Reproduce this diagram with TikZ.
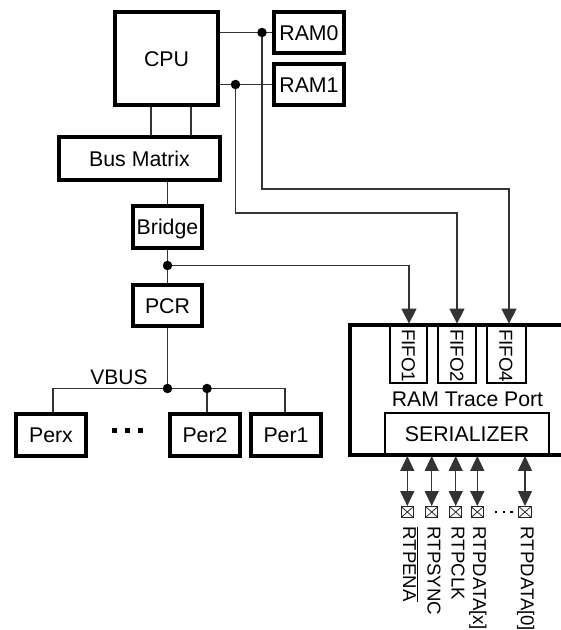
\documentclass[tikz,border=0pt]{standalone}
\usepackage{fontspec}
\setmainfont{Liberation Sans}
\usetikzlibrary{arrows.meta,calc}
\begin{document}
\begin{tikzpicture}[x=1pt,y=-1pt,
  box/.style={draw=black, line width=3.6pt, inner sep=0pt, font=\fontsize{21.3}{24}\selectfont, text height=15.2pt, text depth=0pt},
  thinbox/.style={draw=black, line width=2.2pt, inner sep=0pt, font=\fontsize{21.3}{24}\selectfont, text height=15.2pt, text depth=0pt},
  lbl/.style={inner sep=0pt, font=\fontsize{21}{24}\selectfont, text height=15pt, text depth=0pt},
  rotlbl/.style={rotate=-90, inner sep=0pt, font=\fontsize{18.8}{22}\selectfont, text height=13.5pt, text depth=0pt},
  pinlbl/.style={rotate=-90, anchor=west, inner sep=0pt, font=\fontsize{18.6}{22}\selectfont, text height=13.3pt, text depth=0pt},
  wire/.style={draw=black!80, line width=1.3pt},
  dot/.style={circle, fill=black, inner sep=0pt, minimum size=9.5pt},
  arrdown/.style={wire, -{Triangle[width=15pt,length=15pt]}},
  biarr/.style={wire, {Triangle[width=14pt,length=15pt]}-{Triangle[width=14pt,length=15pt]}},
  pin/.style={draw=black!85, line width=1pt, minimum width=12.5pt, minimum height=11pt, inner sep=0pt,
    path picture={\draw[black!85, line width=0.8pt] (path picture bounding box.north west) -- (path picture bounding box.south east)
      (path picture bounding box.north east) -- (path picture bounding box.south west);}},
  bigline/.style={draw=black, line width=3.8pt},
]
\useasboundingbox (0,0) rectangle (561,630);
\clip (0,0) rectangle (561,630);

% main boxes
\node[box, minimum width=103.5pt, minimum height=93.5pt] (cpu) at (166.5,58.5) {CPU};
\node[box, minimum width=70.5pt, minimum height=41.5pt] (ram0) at (309,32.5) {RAM0};
\node[box, minimum width=70.5pt, minimum height=41.5pt] (ram1) at (309,84.5) {RAM1};
\node[box, minimum width=161.5pt, minimum height=43.5pt] (bus) at (139.5,158.5) {Bus Matrix};
\node[box, minimum width=69.5pt, minimum height=42.5pt] (bridge) at (167.5,227) {Bridge};
\node[box, minimum width=69.5pt, minimum height=41.5pt] (pcr) at (167.5,305.5) {PCR};
\node[box, minimum width=70.5pt, minimum height=42.5pt] (perx) at (51,435) {Perx};
\node[box, minimum width=70.5pt, minimum height=42.5pt] (per2) at (205,435) {Per2};
\node[box, minimum width=70.5pt, minimum height=42.5pt] (per1) at (286,435) {Per1};
\node[lbl] (vbus) at (119,377) {VBUS};

% junction coordinates
\coordinate (c0) at (262,32.5);
\coordinate (c1) at (235.5,84.5);
\coordinate (cb) at (167.5,265.5);
\coordinate (cv) at (167.5,388.5);
\coordinate (cp2) at (207,388.5);
\coordinate (vL) at (53,388.5);
\coordinate (vR) at (285,388.5);

% RAM Trace Port block
\draw[bigline] (561,324.7) -- (349.9,324.7) -- (349.9,454.8) -- (561,454.8);
\node[thinbox, minimum width=36.8pt, minimum height=58.2pt] (f1) at (408.5,353.8) {};
\node[thinbox, minimum width=37.8pt, minimum height=58.2pt] (f2) at (457,353.8) {};
\node[thinbox, minimum width=38.8pt, minimum height=58.2pt] (f4) at (506.2,353.8) {};
\node[rotlbl] (t1) at ($(f1)+(0,2)$) {FIFO1};
\node[rotlbl] (t2) at ($(f2)+(0,2)$) {FIFO2};
\node[rotlbl] (t4) at ($(f4)+(0,2)$) {FIFO4};
\node[lbl, font=\fontsize{21.2}{24}\selectfont] (rtp) at (467.5,399) {RAM Trace Port};
\node[thinbox, minimum width=163.8pt, minimum height=41.7pt] (ser) at (467,434) {SERIALIZER};

% pins
\node[pin] (p1) at (407.3,512) {};
\node[pin] (p2) at (431.7,512) {};
\node[pin] (p3) at (455.7,512) {};
\node[pin] (p4) at (477.3,512) {};
\node[pin] (p5) at (525,512) {};
\foreach \p in {p1,p2,p3,p4,p5}{
  \draw[biarr] (ser.south -| \p) -- (\p.north);
}
\node[pinlbl] (l1) at (409.8,526.5) {$\overline{\mbox{RTPENA}}$};
\node[pinlbl] (l2) at (434.2,526.5) {RTPSYNC};
\node[pinlbl] (l3) at (458.2,526.5) {RTPCLK};
\node[pinlbl] (l4) at (479.8,526.5) {RTPDATA[x]};
\node[pinlbl] (l5) at (527.5,526.5) {RTPDATA[0]};
\foreach \x in {496,504,511.7}{
  \fill[black] (\x-1.3,510.7) rectangle (\x+1.3,513.3);
}

% wires
\draw[wire] (cpu.east |- ram0) -- (ram0.west);
\draw[wire] (cpu.east |- ram1) -- (ram1.west);
\draw[wire] ([xshift=-15.5pt]cpu.south) -- ([xshift=-15.5pt]cpu.south |- bus.north);
\draw[wire] ([xshift=24.5pt]cpu.south) -- ([xshift=24.5pt]cpu.south |- bus.north);
\draw[wire] (bus.south -| bridge) -- (bridge.north);
\draw[wire] (bridge) -- (pcr);
\draw[wire] (pcr) -- (cv);
\draw[wire] (perx.north -| vL) -- (vL) -- (vR) -- (vR |- per1.north);
\draw[wire] (cp2) -- (cp2 |- per2.north);

% trace arrows
\draw[arrdown] (cb) -| ([xshift=0.5pt]f1.north);
\draw[arrdown] (c1) -- ++(0,128.5) -| (f2.north);
\draw[arrdown] (c0) -- ++(0,156.5) -| ([xshift=2.8pt]f4.north);

% junction dots
\foreach \c/\n in {c0/d0,c1/d1,cb/db,cv/dv,cp2/dp2}{
  \node[dot] (\n) at (\c) {};
}

% ellipsis between peripherals
\foreach \x in {114.5,127.5,140.5}{
  \fill[black] (\x-2.5,428) rectangle (\x+2.5,433);
}
\end{tikzpicture}
\end{document}
